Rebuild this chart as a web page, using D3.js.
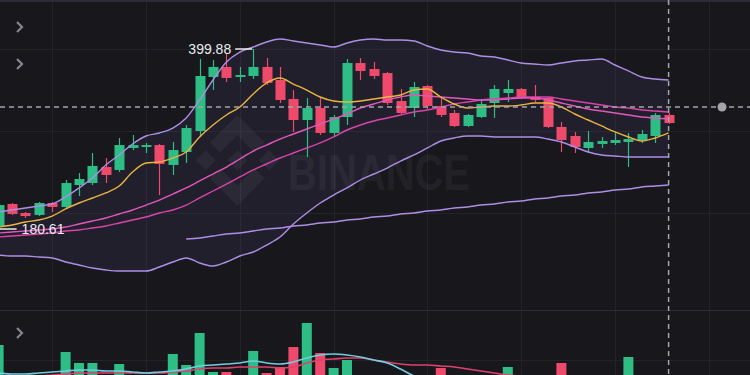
<!DOCTYPE html>
<html>
<head>
<meta charset="utf-8">
<script src="https://cdn.jsdelivr.net/npm/d3@7"></script>
<style>
  body { margin: 0; background: #17171c; overflow: hidden; }
</style>
</head>
<body>
<div id="maincontainer"></div>
<script>
	//Initialize SVG
	let width = 750;
	let height = 375;

	////////////////////////////////////////////////////////////
	//////////////// Data /////////////////
	////////////////////////////////////////////////////////////

	let opens  = [184.3, 211.1, 200.1, 197.7, 212.3, 207.4, 234.2, 236.6, 256.1, 252.5,
	              279.3, 280.5, 282.9, 258.6, 274.4, 300.0, 365.8, 378.0, 365.8, 367.0,
	              378.0, 362.1, 339.0, 313.4, 328.0, 297.6, 317.0, 382.8, 375.5, 370.6,
	              336.5, 328.0, 354.8, 330.4, 321.9, 306.1, 317.0, 334.1, 346.3, 351.2,
	              341.4, 340.2, 304.9, 293.9, 279.3, 284.2, 285.4, 286.6, 289.0, 293.9, 319.5];
	let highs  = [212.3, 212.3, 201.3, 213.5, 213.5, 240.3, 248.8, 273.2, 267.1, 291.5,
	              295.1, 285.4, 284.2, 286.6, 307.3, 387.7, 386.5, 395.0, 378.0, 399.88,
	              388.9, 378.0, 349.9, 340.2, 341.4, 319.5, 387.7, 388.9, 384.0, 371.9,
	              351.2, 359.7, 356.0, 341.4, 325.6, 320.7, 339.0, 356.0, 362.1, 352.4,
	              356.0, 341.4, 311.0, 298.8, 300.0, 292.7, 298.8, 297.6, 301.2, 321.9, 321.9];
	let lows   = [180.61, 197.7, 194.0, 196.4, 201.3, 205.0, 220.8, 234.2, 236.6, 250.0,
	              276.8, 273.2, 222.0, 246.4, 261.0, 292.7, 349.9, 359.7, 359.7, 363.3,
	              356.0, 334.1, 298.8, 268.3, 295.1, 292.7, 307.3, 362.1, 363.3, 331.7,
	              320.7, 317.0, 326.8, 317.0, 304.9, 304.9, 315.8, 315.8, 335.3, 339.0,
	              335.3, 303.6, 274.4, 273.2, 273.2, 279.3, 282.9, 256.1, 285.4, 285.4, 308.5];
	let closes = [209.8, 198.9, 196.4, 212.3, 207.4, 236.6, 241.5, 257.4, 246.4, 282.9,
	              282.9, 282.9, 259.8, 276.8, 303.6, 367.0, 378.0, 364.6, 368.2, 378.0,
	              358.5, 337.8, 313.4, 328.0, 297.6, 317.0, 382.8, 373.1, 367.0, 334.1,
	              321.9, 353.6, 330.4, 319.5, 306.1, 319.5, 332.9, 351.2, 351.2, 340.2,
	              337.8, 304.9, 289.0, 280.5, 286.6, 287.8, 289.0, 290.2, 296.3, 319.5, 309.7];

	let ma7 = [183.0, 185.5, 189.1, 191.6, 196.4, 205.0, 212.3, 218.4, 224.5, 233.0,
	           250.0, 261.0, 262.2, 267.1, 274.4, 292.7, 307.3, 319.5, 329.2, 345.1,
	           358.5, 364.6, 357.2, 349.9, 341.4, 336.5, 335.3, 336.5, 339.0, 341.4,
	           343.8, 349.9, 351.2, 341.4, 332.9, 328.0, 329.2, 330.4, 330.4, 331.7,
	           334.1, 334.1, 329.2, 320.7, 313.4, 306.1, 298.8, 292.7, 287.8, 291.5, 297.6];
	let maA = [175.7, 177.0, 178.2, 179.4, 180.6, 183.0, 186.7, 190.3, 194.0, 198.9,
	           203.8, 209.8, 215.9, 223.2, 230.6, 239.1, 247.6, 256.1, 265.9, 275.6,
	           282.9, 290.2, 296.3, 302.4, 308.5, 314.6, 320.7, 328.0, 332.9, 337.8,
	           341.4, 343.8, 342.6, 341.4, 340.2, 339.0, 337.8, 337.8, 339.0, 340.2,
	           340.2, 337.8, 334.1, 330.4, 326.8, 324.3, 321.9, 319.5, 317.0, 315.8, 314.6];
	let maB = [170.9, 172.1, 173.3, 174.5, 175.7, 178.2, 179.4, 181.8, 184.3, 187.9,
	           191.6, 195.2, 200.1, 203.8, 209.8, 218.4, 226.9, 235.4, 244.0, 252.5,
	           259.8, 267.1, 273.2, 279.3, 285.4, 292.7, 301.2, 307.3, 312.2, 315.8,
	           319.5, 323.1, 325.6, 329.2, 332.9, 335.3, 337.8, 339.0, 340.2, 341.4,
	           341.4, 341.4, 339.0, 336.5, 334.1, 331.7, 329.2, 328.0, 325.6, 324.3, 323.1];
	let ma99 = [null, null, null, null, null, null, null, null, null, null,
	            null, null, null, null, 168.4, 169.6, 172.1, 174.5, 175.7, 178.2,
	            180.6, 181.8, 184.3, 185.5, 187.9, 189.1, 191.6, 192.8, 195.2, 196.4,
	            198.9, 200.1, 202.5, 203.8, 206.2, 207.4, 209.8, 211.1, 213.5, 214.7,
	            217.2, 218.4, 220.8, 222.0, 224.5, 225.7, 228.1, 229.3, 231.8, 233.0, 234.2];
	let bollUp = [201.3, 203.8, 206.2, 208.6, 211.1, 219.6, 230.6, 242.7, 258.6, 270.8,
	              284.2, 293.9, 297.6, 303.6, 315.8, 337.8, 362.1, 384.0, 396.2, 402.3,
	              408.4, 412.1, 409.6, 407.2, 404.8, 402.3, 407.2, 410.8, 412.1, 410.8,
	              410.8, 409.6, 403.5, 398.7, 396.2, 395.0, 391.4, 390.1, 386.5, 382.8,
	              381.6, 380.4, 382.8, 385.3, 386.5, 387.7, 380.4, 373.1, 365.8, 363.3, 362.1];
	let bollDn = [148.9, 147.7, 147.7, 146.5, 145.3, 140.4, 136.8, 133.1, 130.7, 129.4,
	              129.4, 129.4, 134.3, 140.4, 145.3, 139.2, 135.5, 140.4, 147.7, 152.6,
	              161.1, 170.9, 186.7, 200.1, 212.3, 222.0, 230.6, 240.3, 247.6, 254.9,
	              263.4, 270.8, 279.3, 287.8, 291.5, 293.9, 293.9, 292.7, 292.7, 292.7,
	              292.7, 290.2, 286.6, 280.5, 274.4, 270.8, 269.5, 268.3, 268.3, 268.3, 268.3];

	let vols = [40, 8, 6, 9, 5, 33, 22, 22, 9, 21,
	            7, 6, 9, 31, 20, 52, 13, 13, 8, 34,
	            12, 18, 38, 62, 32, 17, 25, 9, 7, 9,
	            8, 9, 8, 17, 7, 6, 8, 9, 18, 6,
	            5, 9, 22, 8, 7, 5, 6, 28, 5, 8, 4];
	let volMaA = [12, 11, 11, 12, 13, 14, 15, 15, 14, 14,
	              13, 12, 13, 14, 16, 19, 20, 21, 22, 24,
	              22, 21, 23, 27, 30, 31, 30, 28, 25, 22,
	              16, 9, 5, 4, 4, 4, 4, 4, 5, 5,
	              5, 6, 7, 7, 7, 6, 6, 7, 7, 7, 7];
	let volMaB = [9, 9, 9, 9, 10, 11, 12, 12, 12, 12,
	              12, 12, 12, 13, 14, 16, 17, 17, 18, 18,
	              18, 17, 18, 22, 25, 26, 27, 27, 25, 23,
	              21, 20, 20, 19, 18, 16, 14, 12, 10, 9,
	              8, 8, 8, 8, 8, 7, 7, 7, 7, 7, 7];

	let priceGrid = [200, 300, 400];
	let volGrid = [25];
	let timeGrid = [4, 11, 18, 25, 32, 39, 46, 53];
	let highIdx = 19, lowIdx = 0;
	let crossIdx = 50, crossPrice = 329.2;

	let green = "#2ebd85", red = "#ef4a6c";

	////////////////////////////////////////////////////////////
	//////////////// Scales ////////////////////////////////////
	////////////////////////////////////////////////////////////

	let svg = d3.select("#maincontainer")
		.append("svg")
		.attr("width", width)
		.attr("height", height)
		.style("display", "block")
		.style("background", "#17171c");

	let x = d3.scaleLinear().domain([0, closes.length - 1]).range([-1.4, 668.6]);
	let y = d3.scaleLinear().domain([180.61, 399.88]).range([229, 49]);
	let yVol = d3.scaleLinear().domain([0, 80]).range([385, 305]);

	let candles = opens.map(function(o, i){
		return {i: i, open: o, high: highs[i], low: lows[i], close: closes[i], vol: vols[i]};
	});
	function col(d){ return d.close >= d.open ? green : red; }

	////////////////////////////////////////////////////////////
	//////////////// Grid & watermark //////////////////////////
	////////////////////////////////////////////////////////////

	let grid = svg.append("g").attr("stroke", "#222228").attr("stroke-width", 1);
	grid.selectAll(".hg").data(priceGrid).enter().append("line")
		.attr("x1", 0).attr("x2", width)
		.attr("y1", d => Math.round(y(d)) + 0.5).attr("y2", d => Math.round(y(d)) + 0.5);
	grid.selectAll(".vg").data(volGrid).enter().append("line")
		.attr("x1", 0).attr("x2", width)
		.attr("y1", d => yVol(d) + 0.5).attr("y2", d => yVol(d) + 0.5);
	grid.selectAll(".tg").data(timeGrid).enter().append("line")
		.attr("y1", 0).attr("y2", height)
		.attr("x1", d => Math.round(x(d)) + 0.5).attr("x2", d => Math.round(x(d)) + 0.5);

	svg.append("line").attr("x1", 0).attr("x2", width).attr("y1", 310.5).attr("y2", 310.5)
		.attr("stroke", "#2c2c34");
	svg.append("line").attr("x1", 0).attr("x2", width).attr("y1", 1).attr("y2", 1)
		.attr("stroke", "#2c2c34").attr("stroke-width", 2);

	// Bollinger band fill
	let band = d3.area()
		.x((d, i) => x(i))
		.y0((d, i) => y(bollDn[i]))
		.y1(d => y(d))
		.curve(d3.curveMonotoneX);
	svg.append("path").datum(bollUp)
		.attr("d", band)
		.attr("fill", "#a78bfa")
		.attr("opacity", 0.07);

	// watermark
	let wm = svg.append("g").attr("fill", "#ffffff").attr("opacity", 0.045);
	let logo = wm.append("g").attr("transform", "translate(192,115) scale(0.72)");
	logo.append("path").attr("d", "M63,0 L101,38 L87,52 L63,28 L39,52 L25,38 Z");
	logo.append("path").attr("d", "M63,126 L101,88 L87,74 L63,98 L39,74 L25,88 Z");
	logo.append("path").attr("d", "M63,49 L77,63 L63,77 L49,63 Z");
	logo.append("path").attr("d", "M19,49 L33,63 L19,77 L5,63 Z");
	logo.append("path").attr("d", "M107,49 L121,63 L107,77 L93,63 Z");
	wm.append("text")
		.attr("x", 288).attr("y", 190)
		.attr("font-family", "Liberation Sans, Arial, sans-serif")
		.attr("font-weight", "bold")
		.attr("font-size", 50)
		.attr("textLength", 182)
		.attr("lengthAdjust", "spacingAndGlyphs")
		.text("BINANCE");

	////////////////////////////////////////////////////////////
	//////////////// Volume ////////////////////////////////////
	////////////////////////////////////////////////////////////

	svg.append("g").selectAll("rect")
		.data(candles)
		.enter()
		.append("rect")
		.attr("x", d => x(d.i) - 5)
		.attr("width", 10)
		.attr("y", d => yVol(d.vol))
		.attr("height", d => yVol(0) - yVol(d.vol))
		.attr("fill", d => col(d));

	let volLine = d3.line().x((d, i) => x(i)).y(d => yVol(d)).curve(d3.curveMonotoneX);
	svg.append("path").datum(volMaB).attr("d", volLine)
		.attr("fill", "none").attr("stroke", "#e0416c").attr("stroke-width", 1.6);
	svg.append("path").datum(volMaA).attr("d", volLine)
		.attr("fill", "none").attr("stroke", "#6fcfe2").attr("stroke-width", 1.6);

	////////////////////////////////////////////////////////////
	//////////////// Candles ///////////////////////////////////
	////////////////////////////////////////////////////////////

	let cg = svg.append("g");
	cg.selectAll("line")
		.data(candles)
		.enter()
		.append("line")
		.attr("x1", d => Math.round(x(d.i)) + 0.5)
		.attr("x2", d => Math.round(x(d.i)) + 0.5)
		.attr("y1", d => y(d.high))
		.attr("y2", d => y(d.low))
		.attr("stroke", d => col(d))
		.attr("stroke-width", 1.2);
	cg.selectAll("rect")
		.data(candles)
		.enter()
		.append("rect")
		.attr("x", d => Math.round(x(d.i)) - 4.5)
		.attr("width", 10)
		.attr("y", d => y(Math.max(d.open, d.close)))
		.attr("height", d => Math.max(1.5, Math.abs(y(d.open) - y(d.close))))
		.attr("fill", d => col(d));

	////////////////////////////////////////////////////////////
	//////////////// Indicator lines ///////////////////////////
	////////////////////////////////////////////////////////////

	let line = d3.line()
		.defined(d => d !== null)
		.x((d, i) => x(i))
		.y(d => y(d))
		.curve(d3.curveMonotoneX);

	[[bollUp, "#ad8ee6"], [bollDn, "#ad8ee6"], [ma99, "#ad8ee6"],
	 [maB, "#d844a8"], [maA, "#e356bd"], [ma7, "#e9b440"]].forEach(function(s){
		svg.append("path").datum(s[0])
			.attr("d", line)
			.attr("fill", "none")
			.attr("stroke", s[1])
			.attr("stroke-width", 1.4);
	});

	////////////////////////////////////////////////////////////
	//////////////// Labels & crosshair ////////////////////////
	////////////////////////////////////////////////////////////

	let labels = svg.append("g")
		.attr("font-family", "Liberation Sans, Arial, sans-serif")
		.attr("font-size", 14)
		.attr("fill", "#eaecef");
	labels.append("line")
		.attr("x1", x(highIdx) - 18).attr("x2", x(highIdx) - 1)
		.attr("y1", y(highs[highIdx])).attr("y2", y(highs[highIdx]))
		.attr("stroke", "#eaecef").attr("stroke-width", 1.5);
	labels.append("text")
		.attr("x", x(highIdx) - 22).attr("y", y(highs[highIdx]) + 5)
		.attr("text-anchor", "end")
		.text(d3.format(".2f")(highs[highIdx]));
	labels.append("line")
		.attr("x1", x(lowIdx) + 1).attr("x2", x(lowIdx) + 18)
		.attr("y1", y(lows[lowIdx])).attr("y2", y(lows[lowIdx]))
		.attr("stroke", "#eaecef").attr("stroke-width", 1.5);
	labels.append("text")
		.attr("x", x(lowIdx) + 23).attr("y", y(lows[lowIdx]) + 5)
		.text(d3.format(".2f")(lows[lowIdx]));

	let cross = svg.append("g")
		.attr("stroke", "#a4a4ac")
		.attr("stroke-width", 1.5)
		.attr("stroke-dasharray", "5,4");
	cross.append("line")
		.attr("x1", 0).attr("x2", width)
		.attr("y1", y(crossPrice)).attr("y2", y(crossPrice));
	cross.append("line")
		.attr("x1", x(crossIdx)).attr("x2", x(crossIdx))
		.attr("y1", 0).attr("y2", height);
	svg.append("circle")
		.attr("cx", 722).attr("cy", y(crossPrice)).attr("r", 4.5)
		.attr("fill", "#a4a4ac");

	// legend toggles
	[27, 64, 333].forEach(function(cy){
		svg.append("path")
			.attr("d", "M17," + (cy - 5) + " L22," + cy + " L17," + (cy + 5))
			.attr("fill", "none")
			.attr("stroke", "#85858d")
			.attr("stroke-width", 2.2);
	});
</script>
</body>
</html>
